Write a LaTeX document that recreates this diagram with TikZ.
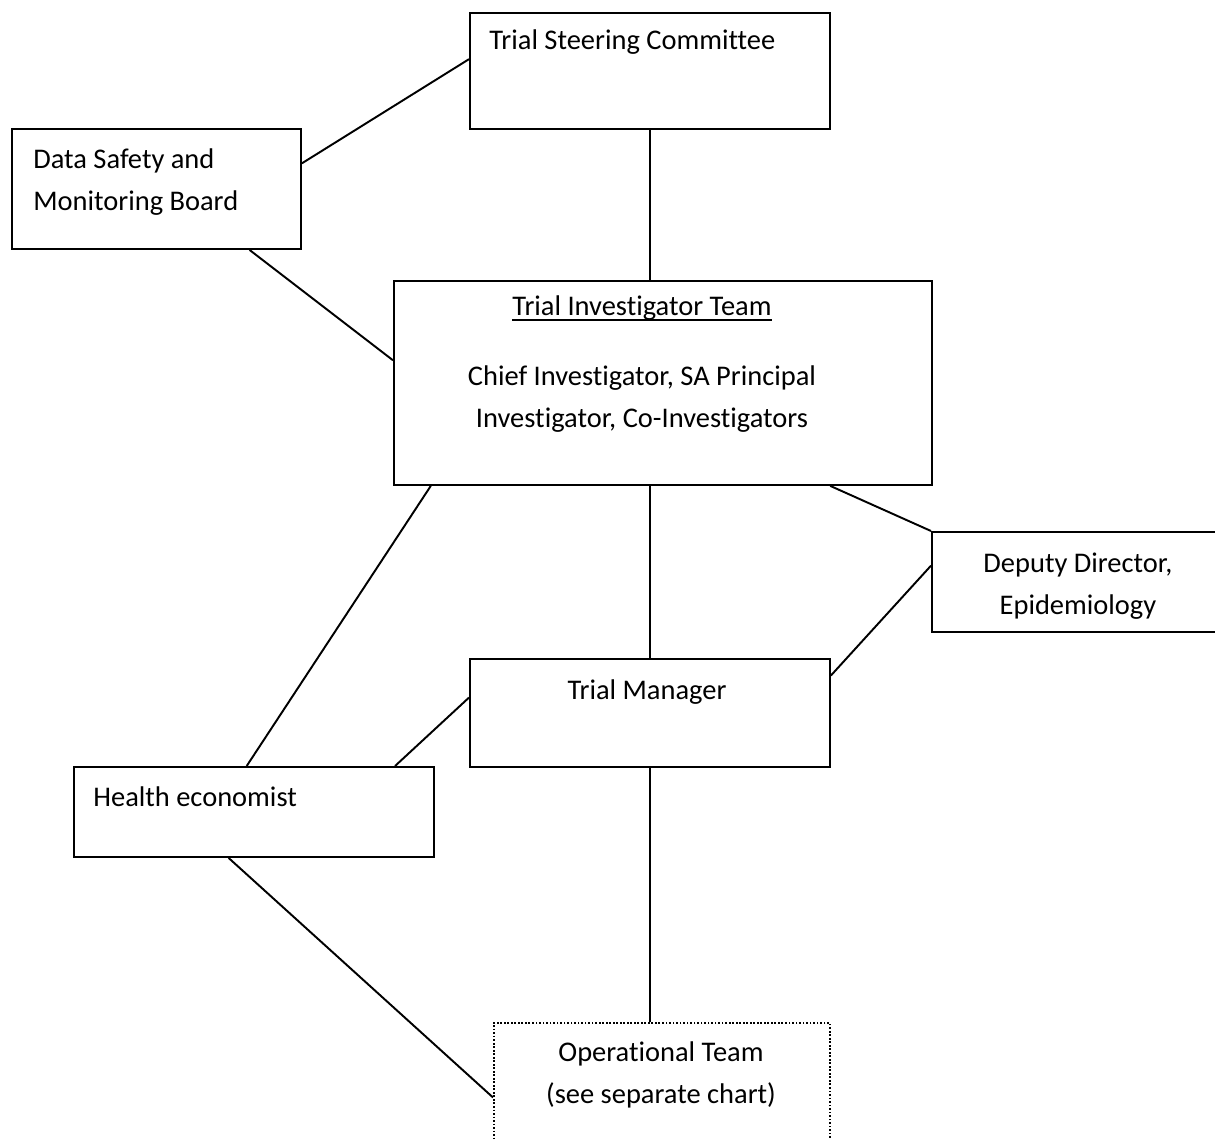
\documentclass[tikz,border=0pt]{standalone}
\usepackage{fontspec}
\setmainfont[Ligatures=NoCommon]{Carlito}
\usetikzlibrary{calc}

\newcommand{\orgfont}{\fontsize{16.2pt}{23.8pt}\selectfont}
\newcommand{\ulabel}[1]{\setbox0\hbox{#1}\rlap{\rule[-3pt]{\wd0}{0.9pt}}\box0}

\tikzset{
  orgbox/.style={draw, line width=1.1pt, inner sep=0pt, anchor=north west},
  opbox/.style={orgbox, line width=1pt, dash pattern=on 1pt off 1pt},
  orgtext/.style={font=\orgfont, inner sep=0pt},
  link/.style={line width=1.1pt}
}

\begin{document}
\begin{tikzpicture}[x=0.02cm, y=-0.02cm]
    \useasboundingbox (0,0) rectangle (1215,1139);
    %boxes
    \node[orgbox, minimum width=7.2cm, minimum height=2.32cm] (tsc) at (469,12) {};
    \node[orgbox, minimum width=5.78cm, minimum height=2.4cm] (dsmb) at (11,128) {};
    \node[orgbox, minimum width=10.76cm, minimum height=4.08cm] (tit) at (393,280) {};
    \node[orgbox, minimum width=5.8cm, minimum height=2cm] (dde) at (931,531) {};
    \node[orgbox, minimum width=7.2cm, minimum height=2.16cm] (tm) at (469,658) {};
    \node[orgbox, minimum width=7.2cm, minimum height=1.8cm] (he) at (73,766) {};
    \node[opbox, minimum width=6.72cm, minimum height=2.4cm] (ot) at (493,1022) {};
    %texts in the boxes (base = last line)
    \node[orgtext, anchor=base west] (tsc-text) at ($(tsc.north west)+(20,38)$) {Trial Steering Committee};
    \node[orgtext, anchor=base west, align=left] (dsmb-text) at ($(dsmb.north west)+(22,82)$) {Data Safety and\\Monitoring Board};
    \node[orgtext, anchor=base, align=center] (tit-text) at ($(tit.north west)+(249,147)$) {\ulabel{Trial Investigator Team}\\[15.9pt]Chief Investigator, SA Principal\\Investigator, Co-Investigators};
    \node[orgtext, anchor=base, align=center] (dde-text) at ($(dde.north west)+(147,83)$) {Deputy Director,\\Epidemiology};
    \node[orgtext, anchor=base] (tm-text) at ($(tm.north west)+(178,41)$) {Trial Manager};
    \node[orgtext, anchor=base west] (he-text) at ($(he.north west)+(20,40)$) {Health economist};
    \node[orgtext, anchor=base, align=center] (ot-text) at ($(ot.north west)+(168,81)$) {Operational Team\\(see separate chart)};
    %connecting lines
    \draw[link] ($(tsc.north west)!0.4!(tsc.south west)$) -- ($(dsmb.north east)!0.29!(dsmb.south east)$);
    \draw[link] (tsc.south) -- (tsc.south |- tit.north);
    \draw[link] ($(dsmb.south west)!0.82!(dsmb.south east)$) -- ($(tit.north west)!0.39!(tit.south west)$);
    \draw[link] ($(tit.south west)!0.07!(tit.south east)$) -- ($(he.north west)!0.48!(he.north east)$);
    \draw[link] (tm.north |- tit.south) -- (tm.north);
    \draw[link] ($(tit.south west)!0.81!(tit.south east)$) -- (dde.north west);
    \draw[link] ($(dde.north west)!0.34!(dde.south west)$) -- ($(tm.north east)!0.16!(tm.south east)$);
    \draw[link] ($(tm.north west)!0.36!(tm.south west)$) -- ($(he.north west)!0.89!(he.north east)$);
    \draw[link] (tm.south) -- (tm.south |- ot.north);
    \draw[link] ($(he.south west)!0.43!(he.south east)$) -- ($(ot.north west)!0.62!(ot.south west)$);
\end{tikzpicture}
\end{document}
